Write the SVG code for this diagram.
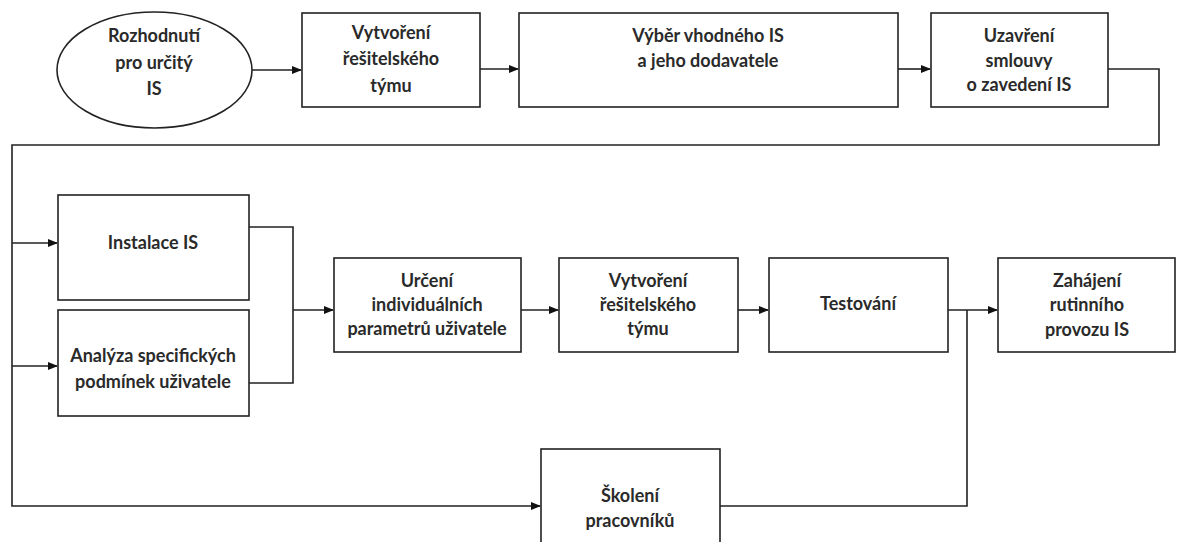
<svg xmlns="http://www.w3.org/2000/svg" width="1178" height="542" viewBox="0 0 1178 542">
<style>
.n{fill:#fff;stroke:#222;stroke-width:1.6}
.t{font-family:Lato,"Liberation Sans",sans-serif;font-weight:bold;font-size:18px;fill:#2a2a2a;text-anchor:middle;dominant-baseline:central}
.c{fill:none;stroke:#222;stroke-width:1.6}
</style>
<defs>
<marker id="ah" markerWidth="10" markerHeight="8" refX="9" refY="4" orient="auto" markerUnits="userSpaceOnUse">
<path d="M0,0 L10,4 L0,8 Z" fill="#111"/>
</marker>
</defs>
<rect width="1178" height="542" fill="#fff"/>
<g id="connectors">
<path class="c" d="M252,70 L301,70" marker-end="url(#ah)"/>
<path class="c" d="M480,69 L518,69" marker-end="url(#ah)"/>
<path class="c" d="M898,69 L930,69" marker-end="url(#ah)"/>
<path class="c" d="M1108,69 L1159,69 L1159,145 L12,145 L12,506 L540,506" marker-end="url(#ah)"/>
<path class="c" d="M12,243 L57,243" marker-end="url(#ah)"/>
<path class="c" d="M12,366 L57,366" marker-end="url(#ah)"/>
<path class="c" d="M249,227 L293,227 L293,383 L249,383"/>
<path class="c" d="M293,310 L333,310" marker-end="url(#ah)"/>
<path class="c" d="M521,310 L558,310" marker-end="url(#ah)"/>
<path class="c" d="M738,310 L768,310" marker-end="url(#ah)"/>
<path class="c" d="M948,310 L997,310" marker-end="url(#ah)"/>
<path class="c" d="M720,506 L967,506 L967,310"/>
</g>
<g id="n1"><ellipse class="n" cx="154.5" cy="70" rx="97.5" ry="58"/>
<text class="t" x="154" y="35">Rozhodnutí</text><text class="t" x="154" y="62">pro určitý</text><text class="t" x="154" y="88">IS</text></g>
<g id="n2"><rect class="n" x="302" y="13" width="178" height="94"/>
<text class="t" x="391" y="32">Vytvoření</text><text class="t" x="391" y="58">řešitelského</text><text class="t" x="391" y="85">týmu</text></g>
<g id="n3"><rect class="n" x="519" y="13" width="379" height="94"/>
<text class="t" x="708" y="35">Výběr vhodného IS</text><text class="t" x="708" y="60">a jeho dodavatele</text></g>
<g id="n4"><rect class="n" x="931" y="13" width="177" height="94"/>
<text class="t" x="1019" y="35">Uzavření</text><text class="t" x="1019" y="60">smlouvy</text><text class="t" x="1019" y="84">o zavedení IS</text></g>
<g id="n5"><rect class="n" x="58" y="195" width="191" height="105"/>
<text class="t" x="153" y="242">Instalace IS</text></g>
<g id="n6"><rect class="n" x="58" y="310" width="191" height="106"/>
<text class="t" x="153" y="355">Analýza specifických</text><text class="t" x="153" y="381">podmínek uživatele</text></g>
<g id="n7"><rect class="n" x="334" y="258" width="187" height="94"/>
<text class="t" x="427" y="280">Určení</text><text class="t" x="427" y="304">individuálních</text><text class="t" x="427" y="328">parametrů uživatele</text></g>
<g id="n8"><rect class="n" x="559" y="258" width="179" height="94"/>
<text class="t" x="648" y="280">Vytvoření</text><text class="t" x="648" y="304">řešitelského</text><text class="t" x="648" y="328">týmu</text></g>
<g id="n9"><rect class="n" x="769" y="258" width="179" height="94"/>
<text class="t" x="858" y="303">Testování</text></g>
<g id="n10"><rect class="n" x="998" y="258" width="177" height="94"/>
<text class="t" x="1087" y="280">Zahájení</text><text class="t" x="1087" y="304">rutinního</text><text class="t" x="1087" y="329">provozu IS</text></g>
<g id="n11"><rect class="n" x="541" y="449" width="179" height="100"/>
<text class="t" x="630" y="495">Školení</text><text class="t" x="630" y="520">pracovníků</text></g>
</svg>
